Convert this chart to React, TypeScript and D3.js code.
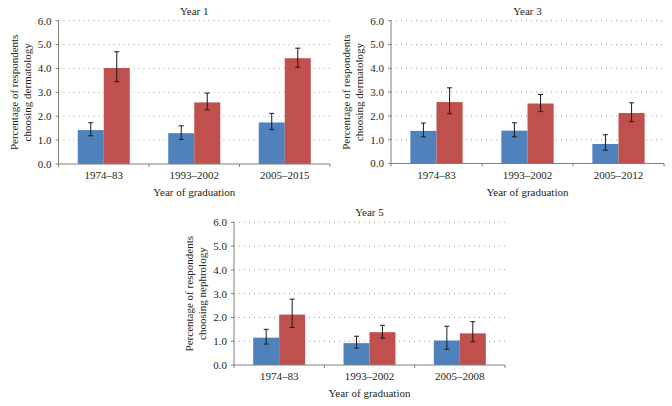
import React from "react";
import * as d3 from "d3";

const categories1 = ["1974–83", "1993–2002", "2005–2015"];
const categories3 = ["1974–83", "1993–2002", "2005–2012"];
const categories5 = ["1974–83", "1993–2002", "2005–2008"];
const series = ["A", "B"];

const y1Blue = [1.42, 1.29, 1.74];
const y1BlueLo = [1.18, 1.03, 1.44];
const y1BlueHi = [1.73, 1.60, 2.12];
const y1Red = [4.02, 2.58, 4.43];
const y1RedLo = [3.45, 2.27, 4.05];
const y1RedHi = [4.70, 2.97, 4.85];

const y3Blue = [1.37, 1.38, 0.82];
const y3BlueLo = [1.12, 1.12, 0.56];
const y3BlueHi = [1.70, 1.71, 1.21];
const y3Red = [2.58, 2.52, 2.12];
const y3RedLo = [2.09, 2.18, 1.76];
const y3RedHi = [3.18, 2.90, 2.55];

const y5Blue = [1.15, 0.92, 1.03];
const y5BlueLo = [0.88, 0.71, 0.66];
const y5BlueHi = [1.50, 1.21, 1.63];
const y5Red = [2.12, 1.38, 1.33];
const y5RedLo = [1.58, 1.13, 0.98];
const y5RedHi = [2.77, 1.67, 1.82];

const yTicks = [0, 1, 2, 3, 4, 5, 6];
const colors = ["#4f81bd", "#c0504d"];
const FONT = "'Liberation Serif', 'Times New Roman', serif";

type PanelProps = {
  title: string;
  yLabel2: string;
  cats: string[];
  vals: number[][];
  lo: number[][];
  hi: number[][];
  left: number;
  right: number;
  top: number;
  bottom: number;
};

function Panel(p: PanelProps) {
  const x0 = d3.scaleBand<string>().domain(p.cats).range([p.left, p.right]).padding(0);
  const x1 = d3
    .scaleBand<string>()
    .domain(series)
    .range([0, x0.bandwidth()])
    .paddingInner(0)
    .paddingOuter(0.74);
  const y = d3.scaleLinear().domain([0, 6]).range([p.bottom, p.top]);
  const fmt = d3.format(".1f");
  const axisColor = "#7f7f7f";
  const midY = (p.top + p.bottom) / 2;
  const ylx = p.left - 41;
  return (
    <g>
      <text
        x={(p.left + p.right) / 2}
        y={p.top - 6}
        textAnchor="middle"
        fontSize={11}
        fontFamily={FONT}
        fill="#231f20"
      >
        {p.title}
      </text>
      {yTicks.map((t) => (
        <g key={t}>
          {t > 0 && (
            <line
              x1={p.left}
              x2={p.right}
              y1={y(t)}
              y2={y(t)}
              stroke="#9a9a9a"
              strokeWidth={1}
              strokeDasharray="1,4"
            />
          )}
          <line x1={p.left - 3} x2={p.left} y1={y(t)} y2={y(t)} stroke={axisColor} />
          <text
            x={p.left - 7}
            y={y(t)}
            dy="0.35em"
            textAnchor="end"
            fontSize={11}
            fontFamily={FONT}
            fill="#231f20"
          >
            {fmt(t)}
          </text>
        </g>
      ))}
      {p.cats.map((c, i) => (
        <g key={c}>
          {series.map((s, j) => {
            const bx = (x0(c) as number) + (x1(s) as number);
            const v = p.vals[j][i];
            const cx = bx + x1.bandwidth() / 2;
            return (
              <g key={s}>
                <rect
                  x={bx}
                  y={y(v)}
                  width={x1.bandwidth()}
                  height={y(0) - y(v)}
                  fill={colors[j]}
                />
                <line x1={cx} x2={cx} y1={y(p.lo[j][i])} y2={y(p.hi[j][i])} stroke="#1a1a1a" strokeWidth={1} />
                <line x1={cx - 2.5} x2={cx + 2.5} y1={y(p.lo[j][i])} y2={y(p.lo[j][i])} stroke="#1a1a1a" strokeWidth={1} />
                <line x1={cx - 2.5} x2={cx + 2.5} y1={y(p.hi[j][i])} y2={y(p.hi[j][i])} stroke="#1a1a1a" strokeWidth={1} />
              </g>
            );
          })}
          <text
            x={(x0(c) as number) + x0.bandwidth() / 2}
            y={p.bottom + 15}
            textAnchor="middle"
            fontSize={11}
            fontFamily={FONT}
            fill="#231f20"
          >
            {c}
          </text>
        </g>
      ))}
      {[...p.cats.map((c) => x0(c) as number), p.right].map((bx, i) => (
        <line key={i} x1={bx} x2={bx} y1={p.bottom} y2={p.bottom + 3} stroke={axisColor} />
      ))}
      <line x1={p.left} x2={p.left} y1={p.top} y2={p.bottom} stroke={axisColor} />
      <line x1={p.left} x2={p.right} y1={p.bottom} y2={p.bottom} stroke={axisColor} />
      <text
        x={(p.left + p.right) / 2}
        y={p.bottom + 32}
        textAnchor="middle"
        fontSize={11}
        fontFamily={FONT}
        fill="#231f20"
      >
        Year of graduation
      </text>
      <text
        transform={`translate(${ylx},${midY}) rotate(-90)`}
        textAnchor="middle"
        fontSize={11}
        fontFamily={FONT}
        fill="#231f20"
      >
        <tspan x={0} dy={0}>Percentage of respondents</tspan>
        <tspan x={0} dy={13}>{p.yLabel2}</tspan>
      </text>
    </g>
  );
}

export default function App() {
  return (
    <svg
      width={672}
      height={406}
      style={{ position: "absolute", left: 0, top: 0, background: "#fff" }}
    >
      <rect width={672} height={406} fill="#fff" />
      <Panel
        title="Year 1"
        yLabel2="choosing dermatology"
        cats={categories1}
        vals={[y1Blue, y1Red]}
        lo={[y1BlueLo, y1RedLo]}
        hi={[y1BlueHi, y1RedHi]}
        left={58.5}
        right={330}
        top={20.7}
        bottom={164}
      />
      <Panel
        title="Year 3"
        yLabel2="choosing dermatology"
        cats={categories3}
        vals={[y3Blue, y3Red]}
        lo={[y3BlueLo, y3RedLo]}
        hi={[y3BlueHi, y3RedHi]}
        left={391}
        right={664}
        top={20.7}
        bottom={163.5}
      />
      <Panel
        title="Year 5"
        yLabel2="choosing nephrology"
        cats={categories5}
        vals={[y5Blue, y5Red]}
        lo={[y5BlueLo, y5RedLo]}
        hi={[y5BlueHi, y5RedHi]}
        left={234}
        right={505}
        top={222.3}
        bottom={365}
      />
    </svg>
  );
}
